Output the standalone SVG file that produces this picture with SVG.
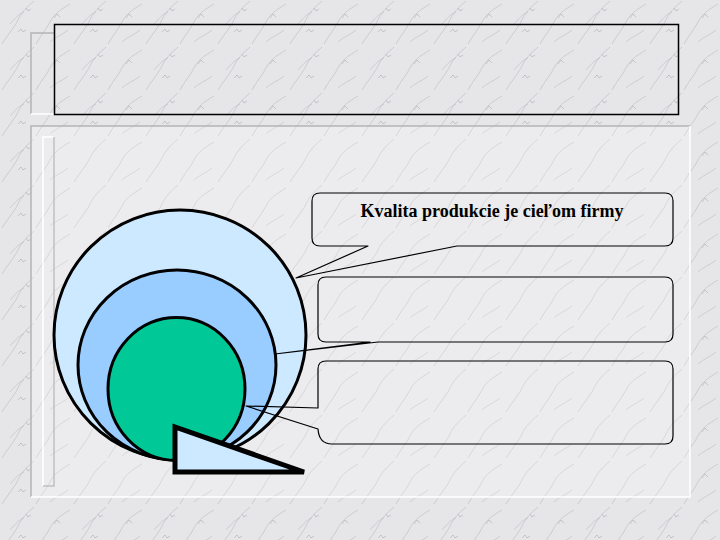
<svg xmlns="http://www.w3.org/2000/svg" width="720" height="540" viewBox="0 0 720 540">
  <defs>
    <pattern id="marble" width="72" height="46" patternUnits="userSpaceOnUse">
      <rect width="72" height="46" fill="#e6e6e9"/>
      <path d="M2,44 C8,34 16,26 20,16 C24,10 28,6 34,1 M36,44 C40,36 46,30 50,22 C54,14 60,10 70,4 M10,24 C14,20 18,14 24,12 M50,42 C54,38 60,36 68,30" stroke="#b4b5b9" stroke-width="1" fill="none" opacity="0.55"/>
      <path d="M18,32 l3,-3 l2,3 l3,-2 M54,18 l3,-4 l3,3 M26,8 l2,3 l3,-2" stroke="#9fa0a5" stroke-width="1" fill="none" opacity="0.5"/>
    </pattern>
    <pattern id="marbleLight" width="72" height="46" patternUnits="userSpaceOnUse">
      <rect width="72" height="46" fill="#ececee"/>
      <path d="M2,44 C8,34 16,26 20,16 C24,10 28,6 34,1 M36,44 C40,36 46,30 50,22 C54,14 60,10 70,4 M50,42 C54,38 60,36 68,30" stroke="#c4c5c9" stroke-width="1" fill="none" opacity="0.55"/>
    </pattern>
  </defs>
  <style>
    .circle { stroke: #000; stroke-width: 3; }
    .callout { fill: none; stroke: #000; stroke-width: 1.2; stroke-linejoin: round; }
    .title { font-family: "Liberation Serif", "DejaVu Serif", serif; font-size: 18px; font-weight: bold; fill: #000; }
  </style>

  <!-- background -->
  <rect x="0" y="0" width="720" height="540" fill="url(#marble)"/>

  <!-- title frame -->
  <g id="title-frame">
    <path d="M31,114 V33 H54" fill="none" stroke="#b4b4b4" stroke-width="1.5"/>
    <path d="M31,114 H54" fill="none" stroke="#ffffff" stroke-width="1.5"/>
    <rect x="54.5" y="24.5" width="624" height="90" fill="none" stroke="#000" stroke-width="1.5"/>
  </g>

  <!-- content frame -->
  <g id="content-frame">
    <rect x="31" y="126" width="659" height="371" fill="url(#marbleLight)"/>
    <path d="M31,497 V126 H690" fill="none" stroke="#b4b4b4" stroke-width="1.5"/>
    <path d="M690,126 V497 H31" fill="none" stroke="#ffffff" stroke-width="1.5"/>
    <path d="M43,486 V137 H54" fill="none" stroke="#ffffff" stroke-width="1.5"/>
    <path d="M54,137 V486 H43" fill="none" stroke="#c0c0c0" stroke-width="1.5"/>
  </g>

  <!-- circles -->
  <g id="outer-circle">
    <ellipse class="circle" cx="180" cy="335" rx="126" ry="125" fill="#cce9ff"/>
  </g>
  <g id="middle-circle">
    <ellipse class="circle" cx="177" cy="365" rx="99" ry="95" fill="#99ccff"/>
  </g>
  <g id="inner-circle">
    <ellipse class="circle" cx="176.5" cy="389" rx="68.5" ry="71.5" fill="#00c896"/>
  </g>
  <g id="triangle">
    <polygon points="175,427 175,472 304,472" fill="#cce9ff" stroke="#000" stroke-width="5" stroke-linejoin="miter"/>
  </g>

  <!-- callouts with pointers (connectors) -->
  <g id="connectors">
    <g id="callout-1">
      <path class="callout" d="M320,193 H665 Q673,193 673,201 V238 Q673,246 665,246 H457 L296,278 L368,246 H320 Q312,246 312,238 V201 Q312,193 320,193 Z"/>
      <text class="title" x="492" y="217" text-anchor="middle">Kvalita produkcie je cieľom firmy</text>
    </g>
    <g id="callout-2">
      <path class="callout" d="M326,277 H665 Q673,277 673,285 V334 Q673,342 665,342 H378 L275,354 L370,342 H326 Q318,342 318,334 V285 Q318,277 326,277 Z"/>
    </g>
    <g id="callout-3">
      <path class="callout" d="M326,361 H665 Q673,361 673,369 V436 Q673,444 665,444 H332 Q319,444 318,429 L246,406 L318,408 V369 Q318,361 326,361 Z"/>
    </g>
  </g>
</svg>
